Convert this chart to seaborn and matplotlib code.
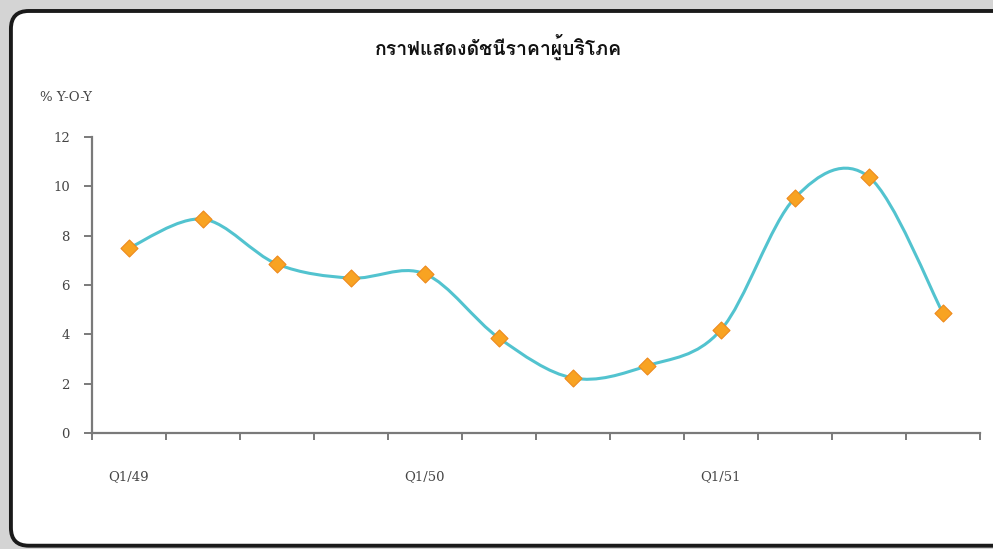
import numpy as np
import pandas as pd
import seaborn as sns
from matplotlib import pyplot as plt
from matplotlib import font_manager
from matplotlib.path import Path
from matplotlib.patches import PathPatch, FancyBboxPatch

# data
quarters = ["Q1/49", "Q2/49", "Q3/49", "Q4/49",
            "Q1/50", "Q2/50", "Q3/50", "Q4/50",
            "Q1/51", "Q2/51", "Q3/51", "Q4/51"]
cpi_yoy = [7.5, 8.67, 6.85, 6.28, 6.45, 3.85, 2.23, 2.72, 4.18, 9.53, 10.38, 4.86]
label_quarters = ["Q1/49", "Q1/50", "Q1/51"]
title_text = "กราฟแสดงดัชนีราคาผู้บริโภค"
ylabel_text = "% Y-O-Y"


def find_thai_font():
    """Return the name of an installed family that has Thai glyphs."""
    from fontTools.ttLib import TTFont
    bold_pick, any_pick = None, None
    for f in font_manager.fontManager.ttflist:
        try:
            cmap = TTFont(f.fname, fontNumber=0, lazy=True).getBestCmap()
        except Exception:
            continue
        if cmap and 0x0E01 in cmap:
            any_pick = any_pick or f.name
            if f.weight in ("bold", 700):
                bold_pick = bold_pick or f.name
    return bold_pick or any_pick or "DejaVu Sans"


def smooth_path(xs, ys):
    """Excel style smoothed line as cubic bezier segments."""
    pts = np.column_stack([xs, ys]).astype(float)
    n = len(pts)
    verts = [pts[0]]
    codes = [Path.MOVETO]
    for i in range(n - 1):
        prev = pts[max(i - 1, 0)]
        nxt = pts[min(i + 2, n - 1)]
        c1 = pts[i] + (pts[i + 1] - prev) / 6
        c2 = pts[i + 1] - (nxt - pts[i]) / 6
        verts += [c1, c2, pts[i + 1]]
        codes += [Path.CURVE4] * 3
    return Path(verts, codes)


sns.set_theme(style="ticks")
thai_font = find_thai_font()
plt.rcParams["font.family"] = ["DejaVu Serif"]

df = pd.DataFrame({"pos": np.arange(len(quarters)), "quarter": quarters, "cpi": cpi_yoy})

fig = plt.figure(figsize=(9.93, 5.49), dpi=100, facecolor="#d4d4d4")
frame = FancyBboxPatch((0.011, 0.006), 1.05, 0.974, boxstyle="round,pad=0,rounding_size=0.018",
                       transform=fig.transFigure, facecolor="white", edgecolor="#1a1a1a",
                       linewidth=2.8, mutation_aspect=993 / 549, zorder=-10)
fig.patches.append(frame)

ax = fig.add_axes([0.0926, 0.2113, 0.8942, 0.5392])
ax.set_zorder(5)
ax.set_facecolor("none")

# smooth line then the diamond markers
ax.add_patch(PathPatch(smooth_path(df["pos"], df["cpi"]), facecolor="none",
                       edgecolor="#52c3cf", linewidth=2.2, zorder=2))
sns.scatterplot(data=df, x="pos", y="cpi", marker="D", s=75, color="#f8a322",
                edgecolor="#ee8a1c", linewidth=0.8, zorder=3, ax=ax)

ax.set_xlim(-0.5, len(quarters) - 0.5)
ax.set_ylim(0, 12)
ax.set_yticks(range(0, 13, 2))
ax.set_xticks([quarters.index(q) for q in label_quarters])
ax.set_xticklabels(label_quarters)
ax.set_xticks(np.arange(-0.5, len(quarters), 1), minor=True)
ax.tick_params(axis="x", which="major", bottom=True, length=0, pad=27,
               labelsize=9.5, labelcolor="#444444")
ax.tick_params(axis="x", which="minor", bottom=True, length=5, width=1.4,
               color="#7a7a7a", direction="out")
ax.tick_params(axis="y", which="major", left=True, length=6, width=1.4, color="#7a7a7a",
               direction="out", pad=10, labelsize=9.5, labelcolor="#444444")
ax.tick_params(axis="y", which="minor", left=False)
ax.set_xlabel("")
ax.set_ylabel("")
for side in ["top", "right"]:
    ax.spines[side].set_visible(False)
for side in ["left", "bottom"]:
    ax.spines[side].set_color("#7a7a7a")
    ax.spines[side].set_linewidth(1.6)

fig.text(0.502, 0.914, title_text, ha="center", va="center", fontsize=14,
         fontweight="bold", family=[thai_font, "DejaVu Sans"], color="#111111")
fig.text(0.040, 0.823, ylabel_text, ha="left", va="center", fontsize=9.5, color="#444444")

fig.savefig("out.png", dpi=100, facecolor=fig.get_facecolor())
